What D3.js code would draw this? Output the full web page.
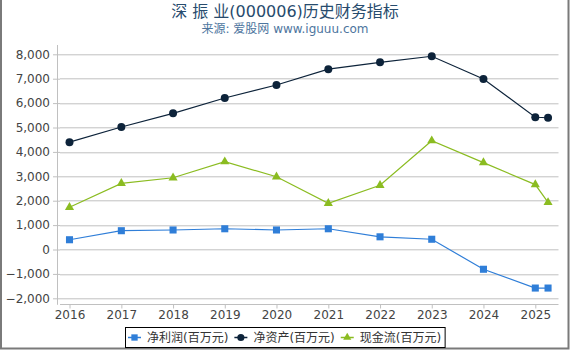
<!DOCTYPE html>
<html>
<head>
<meta charset="utf-8">
<script src="https://cdn.jsdelivr.net/npm/d3@7"></script>
<style>
  body { margin: 0; background: #fff; }
  svg { display: block; font-family: "DejaVu Sans", "Noto Sans CJK SC", sans-serif; }
</style>
</head>
<body>
<svg id="chart"></svg>
<script>
// chart data
const dates = ['2016-01-01', '2017-01-01', '2018-01-01', '2019-01-01', '2020-01-01',
  '2021-01-01', '2022-01-01', '2023-01-01', '2024-01-01', '2025-01-01', '2025-04-01'];
const netProfit = [400, 770, 800, 850, 800, 850, 520, 420, -810, -1580, -1580];
const netAssets = [4400, 5020, 5580, 6210, 6740, 7390, 7670, 7920, 6990, 5420, 5400];
const cashFlow = [1730, 2710, 2940, 3600, 2980, 1890, 2630, 4460, 3560, 2660, 1930];
const seriesNames = ['净利润(百万元)', '净资产(百万元)', '现金流(百万元)'];
const yTicks = [-2000, -1000, 0, 1000, 2000, 3000, 4000, 5000, 6000, 7000, 8000];
const xTickYears = [2016, 2017, 2018, 2019, 2020, 2021, 2022, 2023, 2024, 2025];
const titleText = '深 振 业(000006)历史财务指标';
const subtitleText = '来源: 爱股网 www.iguuu.com';

class LineChart {

  constructor(_config) {
    this.config = {
      parentElement: _config.parentElement,
      containerWidth: _config.containerWidth || 570,
      containerHeight: _config.containerHeight || 350,
      margin: _config.margin || { top: 54.3, right: 11.5, bottom: 51.7, left: 60 }
    };
    this.initVis();
  }

  initVis() {
    let vis = this;
    vis.width = vis.config.containerWidth - vis.config.margin.left - vis.config.margin.right;
    vis.height = vis.config.containerHeight - vis.config.margin.top - vis.config.margin.bottom;

    vis.svg = d3.select(vis.config.parentElement)
      .attr('width', vis.config.containerWidth)
      .attr('height', vis.config.containerHeight);

    // frame
    vis.svg.append('path')
      .attr('d', `M1,0 V348.5 H568.5 V0`)
      .attr('fill', 'none')
      .attr('stroke', '#7a7a7a')
      .attr('stroke-width', 2);

    vis.svg.append('text')
      .attr('x', 285).attr('y', 16.7)
      .attr('text-anchor', 'middle')
      .attr('font-size', 16)
      .attr('fill', '#274b6d')
      .text(titleText);

    vis.svg.append('text')
      .attr('x', 285).attr('y', 32.5)
      .attr('text-anchor', 'middle')
      .attr('font-size', 12)
      .attr('fill', '#4d759e')
      .text(subtitleText);

    vis.chart = vis.svg.append('g')
      .attr('transform', `translate(${vis.config.margin.left},${vis.config.margin.top})`);

    vis.yScale = d3.scaleLinear()
      .domain([-2000, 8000])
      .range([vis.height, 0]);

    // 2016 tick sits ~9.5px inside the plot, 2025 tick ~23px before its right end
    vis.xScale = d3.scaleTime()
      .domain([new Date(2016, 0, 1), new Date(2025, 0, 1)])
      .range([9.5, 475.3]);

    vis.yAxis = d3.axisLeft(vis.yScale)
      .tickValues(yTicks)
      .tickFormat(d3.format(','))
      .tickSize(7)
      .tickPadding(3);

    vis.xAxis = d3.axisBottom(vis.xScale)
      .tickValues(xTickYears.map(y => new Date(y, 0, 1)))
      .tickFormat(d3.timeFormat('%Y'))
      .tickSize(4)
      .tickPadding(1.5);
  }

  updateVis() {
    let vis = this;
    vis.parseDate = d3.timeParse('%Y-%m-%d');
    vis.series = [
      { name: seriesNames[0], values: netProfit, color: '#2f7ed8', symbol: d3.symbolSquare, size: 50 },
      { name: seriesNames[1], values: netAssets, color: '#0d233a', symbol: d3.symbolCircle, size: 50 },
      { name: seriesNames[2], values: cashFlow, color: '#8bbc21', symbol: d3.symbolTriangle, size: 36 }
    ];
    vis.series.forEach(s => {
      s.points = dates.map((d, i) => ({ date: vis.parseDate(d), value: s.values[i] }));
    });
    vis.renderVis();
  }

  renderVis() {
    let vis = this;

    // gridlines
    vis.chart.append('g')
      .selectAll('line')
      .data(yTicks)
      .join('line')
      .attr('x1', 0).attr('x2', vis.width)
      .attr('y1', d => Math.round(vis.yScale(d)) + 0.5)
      .attr('y2', d => Math.round(vis.yScale(d)) + 0.5)
      .attr('stroke', '#c0c0c0')
      .attr('stroke-width', 1);

    // y axis
    vis.yAxisG = vis.chart.append('g')
      .attr('class', 'axis y-axis')
      .call(vis.yAxis);
    vis.yAxisG.select('.domain').remove();
    vis.yAxisG.selectAll('line').attr('stroke', '#c0c0c0');
    vis.yAxisG.selectAll('text')
      .attr('font-size', 12)
      .attr('font-family', '"DejaVu Sans", sans-serif')
      .attr('fill', '#444');
    vis.chart.append('line')
      .attr('x1', -2.5).attr('x2', -2.5)
      .attr('y1', -9.3).attr('y2', vis.height + 6.5)
      .attr('stroke', '#c0c0c0');

    // x axis
    vis.xAxisG = vis.chart.append('g')
      .attr('class', 'axis x-axis')
      .attr('transform', `translate(0,${vis.height + 6.2})`)
      .call(vis.xAxis);
    vis.xAxisG.select('.domain').remove();
    vis.xAxisG.selectAll('line').attr('stroke', '#c0c0c0');
    vis.xAxisG.selectAll('text')
      .attr('font-size', 12)
      .attr('font-family', '"DejaVu Sans", sans-serif')
      .attr('fill', '#444');
    vis.xAxisG.append('line')
      .attr('x1', 0).attr('x2', vis.width)
      .attr('stroke', '#c0c0c0');

    // lines + markers
    vis.line = d3.line()
      .x(d => vis.xScale(d.date))
      .y(d => vis.yScale(d.value));

    vis.series.forEach(s => {
      let g = vis.chart.append('g');
      g.append('path')
        .datum(s.points)
        .attr('d', vis.line)
        .attr('fill', 'none')
        .attr('stroke', s.color)
        .attr('stroke-width', 1.2);
      g.selectAll('.marker')
        .data(s.points)
        .join('path')
        .attr('class', 'marker')
        .attr('transform', d => `translate(${vis.xScale(d.date)},${vis.yScale(d.value)})`)
        .attr('d', d3.symbol().type(s.symbol).size(s.size))
        .attr('fill', s.color);
    });

    // legend
    let legend = vis.svg.append('g');
    let box = legend.append('rect')
      .attr('x', 125.5).attr('y', 327.5)
      .attr('height', 20)
      .attr('fill', '#fff')
      .attr('stroke', '#000');
    let x0 = 128;
    vis.series.forEach(s => {
      legend.append('line')
        .attr('x1', x0).attr('x2', x0 + 13)
        .attr('y1', 337.5).attr('y2', 337.5)
        .attr('stroke', s.color)
        .attr('stroke-width', 1.5);
      legend.append('path')
        .attr('transform', `translate(${x0 + 6.5},337.5)`)
        .attr('d', d3.symbol().type(s.symbol).size(s.size * 0.8))
        .attr('fill', s.color);
      let t = legend.append('text')
        .attr('x', x0 + 19).attr('y', 341.8)
        .attr('font-size', 12)
        .attr('fill', '#333')
        .text(s.name);
      x0 += 19 + t.node().getComputedTextLength() + 6;
    });
    box.attr('width', x0 - 125.5 - 2);
  }
}

const chart = new LineChart({ parentElement: '#chart' });
chart.updateVis();
</script>
</body>
</html>
